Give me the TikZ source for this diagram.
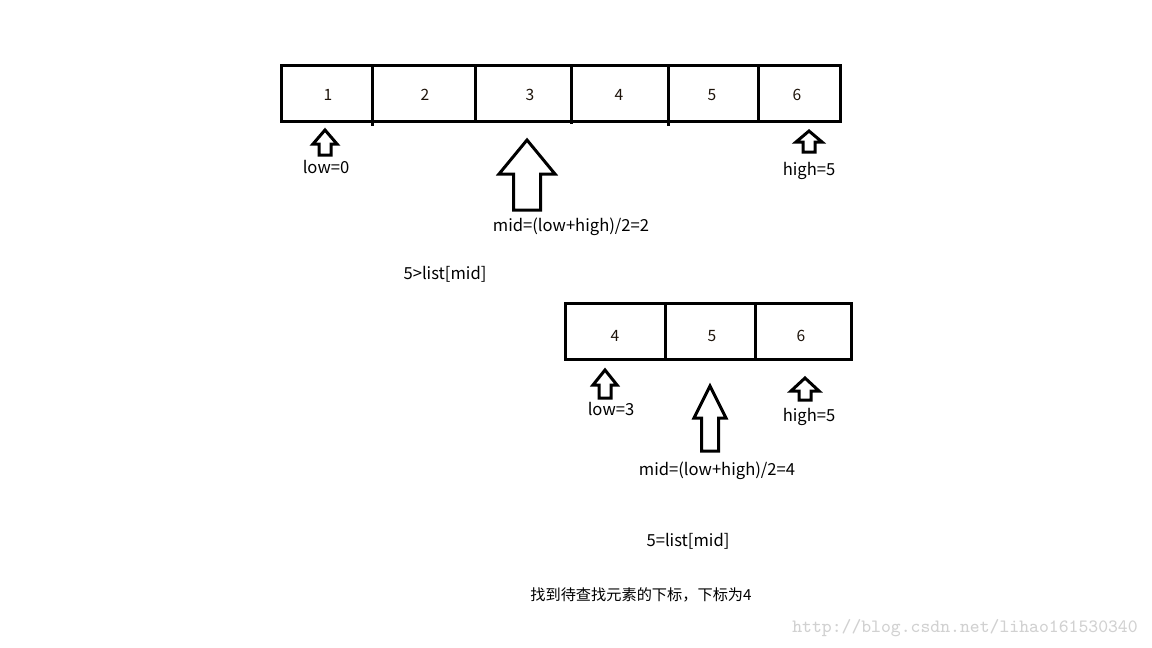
\documentclass[tikz,border=0pt]{standalone}
\usepackage{fontspec}
\setmainfont{Noto Sans CJK SC}
\newcommand\myarr[6]{%
  \draw[arrowshape] (#1,#2) -- (#1+#5,#3) -- (#1+#6,#3) -- (#1+#6,#4) -- (#1-#6,#4) -- (#1-#6,#3) -- (#1-#5,#3) -- cycle;}
\begin{document}
\begin{tikzpicture}[x=0.5pt,y=-0.5pt,
  cellbox/.style={draw=black,line width=1.5pt},
  arrowshape/.style={draw=black,line width=1.5pt,line join=miter,fill=white},
  lbl/.style={font=\fontsize{8.3}{10}\selectfont,text=black,inner sep=0pt},
  cjk/.style={font=\fontsize{7.6}{9}\selectfont,text=black,inner sep=0pt},
  num/.style={font=\fontsize{7.8}{9}\selectfont,text=black!85!brown,inner sep=0pt}]
\useasboundingbox (0,0) rectangle (1152,648);
\fill[white] (0,0) rectangle (1152,648);
% top row
\draw[cellbox] (281,65) rectangle (840,121);
\draw[cellbox] (372,65) -- (372,126);
\draw[cellbox] (475,65) -- (475,123);
\draw[cellbox] (571,65) -- (571,124);
\draw[cellbox] (668,65) -- (668,126);
\draw[cellbox] (758,65) -- (758,121);
\node[num] (t1) at (328,95) {1};
\node[num] (t2) at (425,95) {2};
\node[num] (t3) at (530,95) {3};
\node[num] (t4) at (619,95) {4};
\node[num] (t5) at (712,95) {5};
\node[num] (t6) at (797,95) {6};
% arrows top
\myarr{325}{130}{144}{155}{12}{6}
\myarr{809}{131}{142}{152}{13}{6}
\myarr{527}{140}{174}{210}{28}{13.5}
\node[lbl] (low1) at (326,167) {low=0};
\node[lbl] (high1) at (809,171) {high=5};
\node[lbl] (mid1) at (571,227) {mid=(low+high)/2=2};
\node[lbl] (cmp1) at (445,274) {5>list[mid]};
% bottom row
\draw[cellbox] (565,303) rectangle (851,359);
\draw[cellbox] (665,303) -- (665,359);
\draw[cellbox] (755,303) -- (755,359);
\node[num] (b4) at (615,336) {4};
\node[num] (b5) at (712,336) {5};
\node[num] (b6) at (801,336) {6};
\myarr{605}{370}{385}{398}{12}{6}
\myarr{805}{378}{391}{400}{14}{6}
\myarr{710}{386}{418}{451}{16}{8.5}
\node[lbl] (low2) at (611,409) {low=3};
\node[lbl] (high2) at (809,417) {high=5};
\node[lbl] (mid2) at (717,471) {mid=(low+high)/2=4};
\node[lbl] (cmp2) at (688,541) {5=list[mid]};
\node[cjk] (res) at (641,595) {找到待查找元素的下标，下标为4};
\node[font=\fontsize{9.4}{11}\selectfont\ttfamily,text=black!18,inner sep=0pt] (wm) at (965,628) {http://blog.csdn.net/lihao161530340};
\end{tikzpicture}
\end{document}
